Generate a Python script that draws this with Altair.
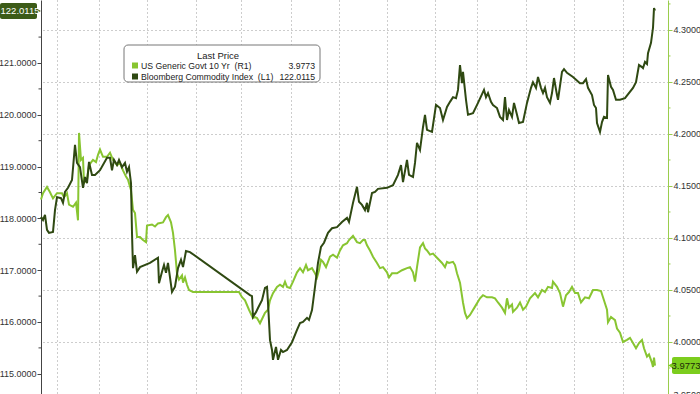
import altair as alt
import pandas as pd

# ---------------- data ----------------
# x = trading-session position along the time axis (chart units)
bcom_t = [
    0, 2, 4, 6, 8, 12, 14, 16, 20, 22,
    24, 27, 31, 34, 36, 39, 42, 44, 46, 48,
    51, 54, 59, 66, 69, 71, 73, 76, 78, 81,
    84, 86, 88, 90, 91, 92, 94, 96, 99, 109,
    117, 118, 121, 123, 125, 127, 131, 134, 137, 140,
    142, 145, 149, 209, 211, 212, 215, 217, 221, 224,
    226, 227, 229, 231, 232, 235, 237, 240, 242, 246,
    251, 256, 259, 262, 266, 268, 271, 274, 277, 280,
    283, 287, 291, 296, 301, 306, 308, 312, 316, 318,
    321, 324, 326, 327, 331, 334, 337, 346, 352, 357,
    360, 362, 366, 368, 372, 374, 376, 379, 382, 384,
    386, 391, 395, 399, 402, 406, 409, 412, 415, 417,
    419, 421, 422, 425, 427, 432, 437, 443, 445, 447,
    450, 452, 456, 459, 462, 464, 466, 468, 471, 473,
    476, 478, 482, 486, 490, 492, 495, 497, 500, 502,
    504, 506, 509, 511, 513, 516, 517, 521, 523, 526,
    532, 539, 542, 545, 547, 551, 553, 555, 556, 559,
    561, 563, 566, 567, 570, 572, 575, 579, 584, 592,
    595, 598, 601, 602, 604, 606, 607, 610, 612, 613,
    614,
]
bcom_v = [
    118.03, 117.97, 118.07, 117.78, 117.72, 117.74, 118.16, 118.41, 118.39, 118.30,
    118.51, 118.59, 118.74, 119.42, 119.07, 118.99, 118.59, 118.80, 118.68, 119.09,
    118.84, 118.84, 118.93, 119.17, 119.17, 118.93, 119.13, 119.03, 119.13, 118.99,
    119.07, 118.90, 118.99, 118.68, 117.72, 117.04, 117.29, 116.97, 117.06, 117.14,
    117.24, 116.75, 116.97, 117.10, 116.95, 117.14, 116.58, 116.68, 117.04, 117.20,
    117.06, 117.37, 117.35, 116.52, 116.50, 116.10, 116.19, 116.27, 116.42, 116.66,
    116.68, 116.37, 115.65, 115.46, 115.27, 115.52, 115.27, 115.46, 115.42, 115.46,
    115.61, 115.85, 115.98, 116.00, 116.08, 116.04, 116.23, 116.68, 117.14, 117.45,
    117.53, 117.72, 117.81, 117.83, 117.93, 118.01, 117.93, 118.30, 118.61, 118.32,
    118.26, 118.16, 118.30, 118.12, 118.49, 118.51, 118.57, 118.59, 118.64, 118.84,
    119.03, 118.70, 119.13, 118.84, 118.80, 119.07, 119.46, 119.32, 119.76, 120.00,
    119.71, 119.67, 120.19, 120.13, 119.90, 120.15, 120.25, 120.34, 120.32, 120.48,
    120.96, 120.61, 120.83, 120.29, 120.00, 120.03, 120.23, 120.48, 120.34, 120.42,
    120.25, 120.19, 120.13, 119.96, 119.90, 120.34, 119.90, 120.09, 119.96, 120.23,
    120.00, 119.84, 119.86, 120.23, 120.52, 120.63, 120.52, 120.73, 120.52, 120.42,
    120.52, 120.34, 120.23, 120.42, 120.71, 120.38, 120.29, 120.83, 120.88, 120.81,
    120.73, 120.61, 120.61, 120.69, 120.52, 120.38, 120.19, 120.13, 119.84, 119.67,
    119.86, 119.96, 119.94, 120.77, 120.54, 120.48, 120.29, 120.29, 120.32, 120.52,
    120.63, 120.96, 120.92, 120.90, 121.02, 120.98, 121.19, 121.39, 121.68, 122.06,
    122.0115,
]

ust_t = [
    0, 2, 6, 9, 12, 16, 21, 23, 26, 28,
    32, 35, 37, 38, 40, 42, 43, 46, 48, 52,
    55, 57, 59, 62, 66, 69, 72, 76, 79, 82,
    85, 87, 90, 92, 94, 96, 99, 102, 105, 106,
    111, 114, 117, 122, 125, 127, 130, 132, 134, 136,
    138, 141, 142, 144, 146, 148, 152, 198, 201, 204,
    208, 212, 214, 216, 219, 222, 224, 227, 229, 232,
    236, 239, 242, 244, 246, 249, 252, 256, 259, 262,
    265, 267, 271, 274, 276, 278, 280, 282, 285, 289,
    292, 296, 299, 302, 306, 308, 312, 316, 319, 322,
    324, 326, 329, 332, 336, 339, 342, 346, 348, 351,
    356, 361, 366, 369, 372, 374, 376, 379, 382, 384,
    386, 389, 392, 396, 401, 404, 406, 408, 412, 414,
    416, 419, 422, 424, 426, 429, 434, 439, 442, 446,
    451, 454, 457, 461, 464, 466, 468, 471, 472, 476,
    479, 482, 485, 489, 494, 497, 501, 504, 507, 511,
    512, 516, 519, 522, 525, 528, 531, 534, 537, 540,
    544, 548, 552, 556, 560, 562, 566, 567, 570, 574,
    576, 579, 582, 586, 589, 592, 595, 598, 601, 603,
    606, 608, 611, 612, 613, 614,
]
ust_v = [
    4.137, 4.143, 4.149, 4.144, 4.138, 4.143, 4.143, 4.139, 4.143, 4.132,
    4.130, 4.134, 4.117, 4.201, 4.175, 4.177, 4.153, 4.156, 4.170, 4.175,
    4.173, 4.180, 4.185, 4.178, 4.178, 4.182, 4.175, 4.170, 4.172, 4.165,
    4.159, 4.156, 4.146, 4.127, 4.124, 4.101, 4.101, 4.098, 4.096, 4.112,
    4.113, 4.111, 4.114, 4.115, 4.120, 4.122, 4.115, 4.105, 4.088, 4.066,
    4.060, 4.064, 4.057, 4.062, 4.055, 4.050, 4.048, 4.048, 4.043, 4.040,
    4.031, 4.023, 4.024, 4.023, 4.018, 4.024, 4.028, 4.031, 4.040, 4.047,
    4.053, 4.055, 4.053, 4.058, 4.053, 4.052, 4.058, 4.067, 4.071, 4.067,
    4.074, 4.069, 4.071, 4.066, 4.062, 4.069, 4.079, 4.077, 4.072, 4.082,
    4.084, 4.081, 4.088, 4.093, 4.095, 4.098, 4.102, 4.096, 4.095, 4.098,
    4.098, 4.093, 4.088, 4.082, 4.076, 4.071, 4.072, 4.067, 4.062, 4.066,
    4.066, 4.069, 4.071, 4.072, 4.067, 4.058, 4.072, 4.091, 4.095, 4.090,
    4.088, 4.084, 4.085, 4.081, 4.076, 4.072, 4.077, 4.076, 4.077, 4.074,
    4.066, 4.057, 4.038, 4.028, 4.023, 4.026, 4.034, 4.042, 4.045, 4.043,
    4.043, 4.042, 4.038, 4.033, 4.028, 4.042, 4.033, 4.036, 4.029, 4.033,
    4.038, 4.031, 4.034, 4.042, 4.047, 4.043, 4.050, 4.048, 4.053, 4.052,
    4.058, 4.053, 4.047, 4.034, 4.045, 4.048, 4.053, 4.047, 4.047, 4.038,
    4.043, 4.042, 4.050, 4.050, 4.049, 4.043, 4.031, 4.019, 4.024, 4.021,
    4.013, 4.009, 4.000, 4.002, 4.004, 3.999, 3.994, 3.999, 4.002, 3.994,
    3.986, 3.988, 3.980, 3.976, 3.985, 3.9773,
]

week_grid_t = [16, 58, 106, 155, 200, 250, 298, 346, 394, 436, 485, 533, 582]
left_ticks = [115, 116, 117, 118, 119, 120, 121]
left_minor = [115.5, 116.5, 117.5, 118.5, 119.5, 120.5, 121.5]
right_ticks = [3.95, 4.00, 4.05, 4.10, 4.15, 4.20, 4.25, 4.30]
right_minor = [3.975, 4.025, 4.075, 4.125, 4.175, 4.225, 4.275, 4.325]

series_names = ["US Generic Govt 10 Yr\u00a0\u00a0(R1)",
                "Bloomberg Commodity Index\u00a0\u00a0(L1)"]
legend_title = "Last Price"

# ---------------- style ----------------
FONT = "Liberation Sans"
LIGHT = "#88c531"
DARK = "#2f4912"
LIGHT_TAG = "#7ccd1e"
DARK_TAG = "#3c5b18"
GRID = "#9a9a9a"
GREEN_AXIS = "#9acd4c"
W, H = 627, 394

bcom_df = pd.DataFrame({"t": bcom_t, "value": bcom_v})
ust_df = pd.DataFrame({"t": ust_t, "value": ust_v})
one = pd.DataFrame({"k": [0]})

x_enc = alt.X(
    "t:Q",
    scale=alt.Scale(domain=[0, W], nice=False, zero=False),
    axis=alt.Axis(values=week_grid_t, grid=True, gridDash=[1, 3], gridColor=GRID,
                  gridWidth=1, labels=False, ticks=False, domain=False, title=None),
)

left_scale = alt.Scale(domain=[114.61, 122.216], nice=False, zero=False)
right_scale = alt.Scale(domain=[3.95, 4.3288], nice=False, zero=False)

left_axis = alt.Axis(orient="left", values=left_ticks, format=".4f", grid=False,
                     tickSize=4, tickColor="#444", domainColor="#444",
                     labelColor="#333", labelFont=FONT, labelFontSize=9,
                     labelPadding=1, labelFlush=False, labelOverlap=False, title=None)
right_axis = alt.Axis(orient="right", values=right_ticks, format=".4f", grid=True,
                      gridDash=[1, 3], gridColor=GRID, gridWidth=1,
                      tickSize=4, tickColor=GREEN_AXIS, domainColor=GREEN_AXIS,
                      labelColor="#333", labelFont=FONT, labelFontSize=9,
                      labelPadding=1, labelFlush=False, labelOverlap=False, title=None)

bcom_line = alt.Chart(bcom_df).mark_line(color=DARK, strokeWidth=2).encode(
    x=x_enc,
    y=alt.Y("value:Q", scale=left_scale, axis=left_axis),
)
left_minor_rules = alt.Chart(pd.DataFrame({"value": left_minor})).mark_rule(
    color="#444", strokeWidth=1).encode(
    x=alt.value(-2.5), x2=alt.value(0),
    y=alt.Y("value:Q", scale=left_scale, axis=left_axis),
)
left_group = alt.layer(bcom_line, left_minor_rules)

ust_line = alt.Chart(ust_df).mark_line(color=LIGHT, strokeWidth=2).encode(
    x=x_enc,
    y=alt.Y("value:Q", scale=right_scale, axis=right_axis),
)
right_minor_rules = alt.Chart(pd.DataFrame({"value": right_minor})).mark_rule(
    color=GREEN_AXIS, strokeWidth=1).encode(
    x=alt.value(W), x2=alt.value(W + 2.5),
    y=alt.Y("value:Q", scale=right_scale, axis=right_axis),
)
right_group = alt.layer(ust_line, right_minor_rules)

# ---------------- legend ----------------
legend_box = alt.Chart(one).mark_rect(
    fill="white", stroke="#777", strokeWidth=1, cornerRadius=4).encode(
    x=alt.value(83), x2=alt.value(279), y=alt.value(45), y2=alt.value(82))
legend_head = alt.Chart(one).mark_text(
    text=legend_title, font=FONT, fontSize=9.5, color="#222",
    align="center", baseline="middle").encode(x=alt.value(177), y=alt.value(56))

legend_layers = []
rows = [
    (series_names[0], f"{ust_v[-1]:.4f}", LIGHT, 65.5),
    (series_names[1], f"{bcom_v[-1]:.4f}", DARK, 76.5),
]
for name, last, col, yc in rows:
    legend_layers.append(alt.Chart(one).mark_rect(fill=col).encode(
        x=alt.value(91), x2=alt.value(97), y=alt.value(yc - 3), y2=alt.value(yc + 3)))
    legend_layers.append(alt.Chart(one).mark_text(
        text=name, font=FONT, fontSize=8.7, color="#222", align="left",
        baseline="middle").encode(x=alt.value(100), y=alt.value(yc)))
    legend_layers.append(alt.Chart(one).mark_text(
        text=last, font=FONT, fontSize=8.7, color="#222", align="right",
        baseline="middle").encode(x=alt.value(274), y=alt.value(yc)))

# ---------------- last-value tags ----------------
tag_left = [
    alt.Chart(one).mark_rect(fill=DARK_TAG, cornerRadius=2).encode(
        x=alt.value(-41), x2=alt.value(-4), y=alt.value(3), y2=alt.value(19)),
    alt.Chart(one).mark_point(shape="triangle-right", filled=True, size=45,
                              color=DARK_TAG, opacity=1).encode(
        x=alt.value(-3), y=alt.value(11)),
    alt.Chart(one).mark_text(text=f"{bcom_v[-1]:.4f}", font=FONT, fontSize=9.5,
                             color="white", align="center", baseline="middle").encode(
        x=alt.value(-21), y=alt.value(11)),
]
tag_right = [
    alt.Chart(one).mark_rect(fill=LIGHT_TAG, cornerRadius=2).encode(
        x=alt.value(W + 4), x2=alt.value(W + 33), y=alt.value(357), y2=alt.value(374)),
    alt.Chart(one).mark_point(shape="triangle-left", filled=True, size=45,
                              color=LIGHT_TAG, opacity=1).encode(
        x=alt.value(W + 3), y=alt.value(365.5)),
    alt.Chart(one).mark_text(text=f"{ust_v[-1]:.4f}", font=FONT, fontSize=9.5,
                             color="#1d2a08", align="center", baseline="middle").encode(
        x=alt.value(W + 18), y=alt.value(365.5)),
]

chart = alt.layer(
    right_group, left_group, legend_box, legend_head, *legend_layers, *tag_left, *tag_right
).resolve_scale(y="independent").properties(
    width=W, height=H,
    padding={"left": 41, "top": 0, "right": 32, "bottom": 0},
    autosize=alt.AutoSizeParams(type="none"),
    background="white",
).configure_view(stroke=None)

chart.save("out.html", embed_options={"renderer": "svg", "actions": False})
